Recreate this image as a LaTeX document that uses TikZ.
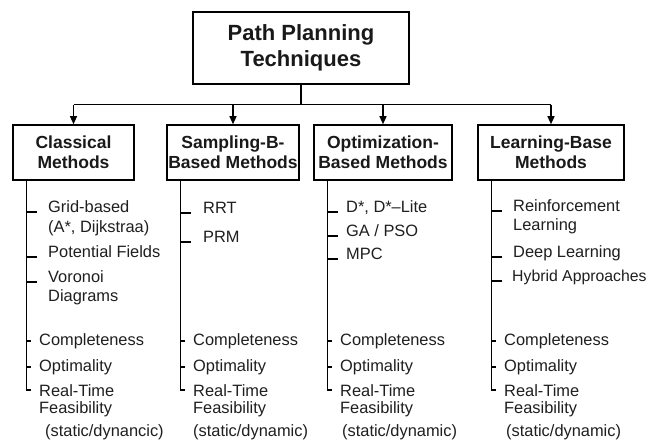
\documentclass[tikz,border=0pt]{standalone}
\usepackage{fontspec}
\setmainfont{Liberation Sans}
\usetikzlibrary{arrows.meta,calc}

\begin{document}
\begin{tikzpicture}[x=1pt,y=-1pt,
  box/.style={draw,line width=1.6pt,inner sep=0pt,align=center,text=black!90},
  head/.style={box,font=\fontsize{17.5}{20}\selectfont\bfseries,minimum height=55pt},
  item/.style={anchor=base west,inner sep=0pt,text=black!88,font=\fontsize{16.4}{19}\selectfont},
  link/.style={line width=1.3pt},
  arr/.style={link,-{Triangle[length=8pt,width=7pt]}}]
\useasboundingbox[fill=white] (0,0) rectangle (649,446);

% root and the four families
\node[box,font=\fontsize{22}{26}\selectfont\bfseries,minimum width=216pt,minimum height=72pt] (root) at (301,48) {Path Planning\\Techniques};
\node[head,minimum width=121pt] (cl) at (73.5,152.5) {Classical\\Methods};
\node[head,minimum width=132pt] (sa) at (233,152.5) {Sampling-B-\\Based Methods};
\node[head,minimum width=138pt] (op) at (383,152.5) {Optimization-\\Based Methods};
\node[head,minimum width=146pt] (le) at (551,152.5) {Learning-Base\\Methods};

% branching from the root
\coordinate (j) at ($(root.south)+(0,20)$);
\draw[link] (root.south) -- (j);
\draw[link] (j -| cl.north) -- (j -| le.north);
\foreach \b in {cl,sa,op,le}
  \draw[arr] (j -| \b.north) -- (\b.north);

% spines under each family
\foreach \b in {cl,sa,op,le}
  \coordinate (\b s) at ($(\b.south west)+(14,0)$);

% Classical
\node[item] (c1) at (48,213) {Grid-based};
\node[item] (c1b) at (48,233) {(A*, Dijkstraa)};
\node[item] (c2) at (48,258) {Potential Fields};
\node[item] (c3) at (48,283) {Voronoi};
\node[item] (c3b) at (48,302) {Diagrams};
\node[item] (ck1) at (39,346) {Completeness};
\node[item] (ck2) at (39,372) {Optimality};
\node[item] (ck3) at (39,397) {Real-Time};
\node[item] (ck3b) at (39,414) {Feasibility};
\node[item] (ck4) at (45,437) {(static/dynancic)};

% Sampling
\node[item] (s1) at (203,214) {RRT};
\node[item] (s2) at (203,243) {PRM};
\node[item] (sk1) at (193,346) {Completeness};
\node[item] (sk2) at (193,372) {Optimality};
\node[item] (sk3) at (193,397) {Real-Time};
\node[item] (sk3b) at (193,414) {Feasibility};
\node[item] (sk4) at (193,437) {(static/dynamic)};

% Optimization
\node[item] (o1) at (346,213) {D*, D*–Lite};
\node[item] (o2) at (346,237) {GA / PSO};
\node[item] (o3) at (346,260) {MPC};
\node[item] (ok1) at (340,346) {Completeness};
\node[item] (ok2) at (340,372) {Optimality};
\node[item] (ok3) at (340,397) {Real-Time};
\node[item] (ok3b) at (340,414) {Feasibility};
\node[item] (ok4) at (342,437) {(static/dynamic)};

% Learning
\node[item] (l1) at (513,212) {Reinforcement};
\node[item] (l1b) at (513,231) {Learning};
\node[item] (l2) at (513,258) {Deep Learning};
\node[item,font=\fontsize{15.8}{19}\selectfont] (l3) at (512,282) {Hybrid Approaches};
\node[item] (lk1) at (504,346) {Completeness};
\node[item] (lk2) at (504,372) {Optimality};
\node[item] (lk3) at (504,397) {Real-Time};
\node[item] (lk3b) at (504,414) {Feasibility};
\node[item] (lk4) at (506,437) {(static/dynamic)};

% spine with its final corner into Real-Time
\foreach \b/\k in {cl/ck3,sa/sk3,op/ok3,le/lk3}
  \draw[link] (\b s) |- ($(\b s |- \k.base)+(5,-7)$);

% method ticks (underscore style)
\foreach \b/\n in {cl/c1,cl/c2,cl/c3,sa/s1,sa/s2,op/o1,op/o2,op/o3,le/l1,le/l2,le/l3}
  \draw[link] ($(\b s |- \n.base)+(0,-1)$) -- ++(11,0);

% criteria ticks
\foreach \b/\n in {cl/ck1,cl/ck2,sa/sk1,sa/sk2,op/ok1,op/ok2,le/lk1,le/lk2}
  \draw[link] ($(\b s |- \n.base)+(0,-5)$) -- ++(5,0);
\end{tikzpicture}
\end{document}
